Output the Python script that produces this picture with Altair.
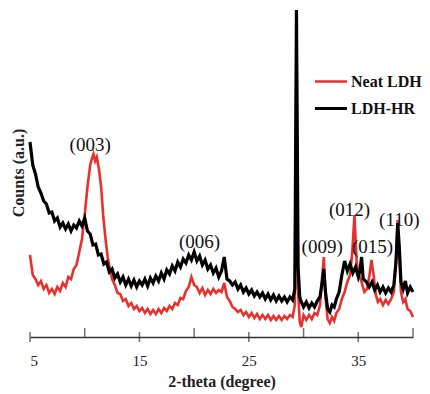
import altair as alt
import pandas as pd

# LDH-HR (black)
hr_x = [5.00,5.25,5.50,5.75,6.00,6.25,6.50,6.75,7.00,7.25,7.50,7.75,8.00,8.25,8.50,8.75,9.00,9.25,9.50,9.75,
        10.00,10.25,10.50,10.75,11.00,11.25,11.50,11.75,12.00,12.25,12.50,12.75,13.00,13.25,13.50,13.75,14.00,14.25,14.50,14.75,
        15.00,15.25,15.50,15.75,16.00,16.25,16.50,16.75,17.00,17.25,17.50,17.75,18.00,18.25,18.50,18.75,19.00,19.25,19.50,19.75,
        20.00,20.25,20.50,20.75,21.00,21.25,21.50,21.75,22.00,22.25,22.50,22.75,23.00,23.25,23.50,23.75,24.00,24.25,24.50,24.75,
        25.00,25.25,25.50,25.75,26.00,26.25,26.50,26.75,27.00,27.25,27.50,27.75,28.00,28.25,28.50,28.75,29.00,29.20,29.35,29.50,
        29.65,29.75,30.00,30.25,30.50,30.75,31.00,31.25,31.50,31.70,31.85,32.00,32.20,32.40,32.60,32.80,33.00,33.25,33.50,33.75,
        34.00,34.25,34.50,34.75,35.00,35.15,35.30,35.45,35.75,36.00,36.25,36.50,36.75,37.00,37.25,37.50,37.75,38.00,38.25,38.45,
        38.60,38.75,38.90,39.10,39.30,39.50,39.75,40.00]
hr_y = [195,172,163,150,144,136,133,124,125,116,119,110,114,108,113,106,112,109,116,111,
        119,106,103,92,93,82,83,73,75,65,68,59,63,55,60,52,58,51,57,50,
        56,52,58,51,59,54,61,56,64,58,67,63,71,66,75,70,78,74,82,77,
        85,76,81,72,77,68,72,64,69,60,66,80,58,56,52,55,48,52,45,49,
        43,47,41,45,40,44,38,43,37,42,36,41,36,40,35,40,37,48,327,70,
        40,36,30,35,29,34,30,36,40,55,68,45,28,25,32,30,38,45,62,76,
        66,73,64,70,60,66,80,58,55,50,55,47,52,45,50,44,49,45,52,75,
        114,90,55,48,56,44,50,45]

# Neat LDH (red)
neat_x = [5.00,5.15,5.25,5.50,5.75,6.00,6.25,6.50,6.75,7.00,7.25,7.50,7.75,8.00,8.25,8.50,8.75,9.00,9.25,9.50,
          9.75,10.00,10.25,10.50,10.65,10.80,10.95,11.10,11.30,11.50,11.70,11.90,12.10,12.30,12.50,12.75,13.00,13.25,13.50,13.75,
          14.00,14.25,14.50,14.75,15.00,15.25,15.50,15.75,16.00,16.25,16.50,16.75,17.00,17.25,17.50,17.75,18.00,18.25,18.50,18.75,
          19.00,19.25,19.50,19.75,20.00,20.25,20.50,20.75,21.00,21.25,21.50,21.75,22.00,22.25,22.50,22.75,23.00,23.25,23.50,23.75,
          24.00,24.25,24.50,24.75,25.00,25.25,25.50,25.75,26.00,26.25,26.50,26.75,27.00,27.25,27.50,27.75,28.00,28.25,28.50,28.75,
          29.00,29.20,29.35,29.50,29.65,29.80,30.00,30.25,30.50,30.75,31.00,31.25,31.50,31.70,31.85,32.00,32.20,32.40,32.60,32.80,
          33.00,33.25,33.50,33.75,34.00,34.25,34.45,34.65,34.85,35.05,35.30,35.55,35.80,36.00,36.20,36.40,36.60,36.80,37.00,37.25,
          37.50,37.75,38.00,38.25,38.45,38.60,38.75,38.90,39.10,39.30,39.50,39.75,40.00]
neat_y = [82,70,62,58,52,56,48,52,44,48,43,50,46,54,50,60,58,68,72,85,
          98,122,150,172,178,183,176,180,168,150,120,98,80,68,58,52,44,43,36,38,
          31,34,28,31,26,29,24,28,23,27,23,28,24,29,26,31,28,34,32,39,
          38,46,50,60,52,50,44,49,42,47,43,48,44,47,45,54,40,36,30,28,
          25,27,22,25,20,24,19,23,18,22,18,22,17,21,17,21,17,21,18,22,
          20,32,282,45,15,10,22,17,22,18,24,22,32,60,80,40,18,14,20,16,
          24,28,38,45,55,62,85,122,75,62,55,45,48,60,77,62,42,35,38,32,
          37,33,38,45,80,117,80,45,35,38,28,26,20]

series_names = ["Neat LDH", "LDH-HR"]
series_colors = ["#e8302c", "#000000"]
series_widths = [2.6, 3.2]

peak_labels = ["(003)", "(006)", "(009)", "(012)", "(015)", "(110)"]
peak_x = [10.5, 20.5, 31.7, 34.2, 36.3, 38.75]
peak_y = [192, 95, 90, 127, 90, 117]

major_ticks = [5, 15, 25, 35]
minor_ticks = [10, 20, 30, 40]

df = pd.concat([
    pd.DataFrame({"x": neat_x, "y": neat_y, "s": series_names[0], "o": 0}),
    pd.DataFrame({"x": hr_x, "y": hr_y, "s": series_names[1], "o": 1}),
])
df["idx"] = range(len(df))

FONT = "Liberation Serif"
xscale = alt.Scale(domain=[5, 40], nice=False, zero=False)
yscale = alt.Scale(domain=[0, 329], nice=False, zero=False)

lines = alt.Chart(df).mark_line(strokeJoin="miter").encode(
    x=alt.X("x:Q", scale=xscale,
            axis=alt.Axis(values=major_ticks, ticks=False, grid=False, domainColor="#333",
                          domainWidth=1.5, labelFont=FONT, labelFontSize=15, labelColor="#222",
                          labelPadding=16, title="2-theta (degree)", titleFont=FONT,
                          titleFontSize=16, titleFontWeight="bold", titleColor="#222",
                          titlePadding=5)),
    y=alt.Y("y:Q", scale=yscale,
            axis=alt.Axis(domain=False, ticks=False, labels=False, grid=False,
                          title="Counts (a.u.)", titleFont=FONT, titleFontSize=16,
                          titleFontWeight="bold", titleColor="#222", titlePadding=4)),
    color=alt.Color("s:N", scale=alt.Scale(domain=series_names, range=series_colors),
                    legend=alt.Legend(title=None, orient="none", legendX=283, legendY=60,
                                      symbolType="stroke", symbolSize=1024, symbolStrokeWidth=2.2,
                                      labelFont=FONT, labelFontSize=16, labelFontWeight="bold",
                                      labelColor="#111", labelOffset=2, clipHeight=27,
                                      rowPadding=0, padding=0)),
    strokeWidth=alt.StrokeWidth("s:N", scale=alt.Scale(domain=series_names, range=series_widths),
                                legend=None),
    order="idx:Q",
    detail="o:Q",
)

ticks_df = pd.DataFrame({"t": major_ticks})
minor_df = pd.DataFrame({"t": minor_ticks})
major = alt.Chart(ticks_df).mark_tick(orient="vertical", size=10, thickness=1.5, color="#333").encode(
    x=alt.X("t:Q", scale=xscale), y=alt.value(329))
minor = alt.Chart(minor_df).mark_tick(orient="vertical", size=9, thickness=1.5, color="#333", yOffset=-4.5).encode(
    x=alt.X("t:Q", scale=xscale), y=alt.value(329))

labels_df = pd.DataFrame({"lab": peak_labels, "x": peak_x, "y": peak_y})
texts = alt.Chart(labels_df).mark_text(font=FONT, fontSize=19, color="#111").encode(
    x=alt.X("x:Q", scale=xscale), y=alt.Y("y:Q", scale=yscale), text="lab:N")

chart = alt.layer(lines, major, minor, texts).properties(
    width=383, height=329,
    autosize=alt.AutoSizeParams(type="none"),
    padding={"left": 22, "top": 0, "right": 9, "bottom": 56},
).configure_view(stroke=None)

chart.save("out.html", embed_options={"renderer": "svg", "actions": False})
